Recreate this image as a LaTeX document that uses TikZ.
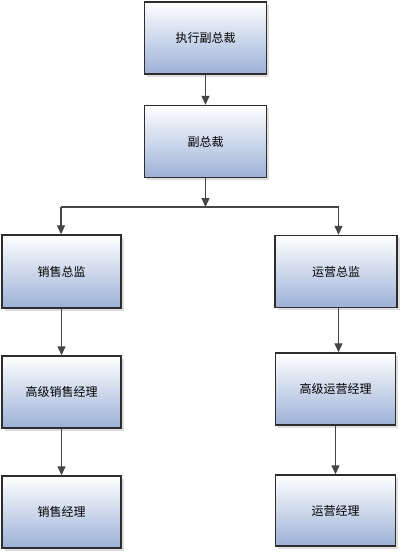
\documentclass[tikz,border=0pt]{standalone}
\usepackage{fontspec}
\newfontfamily\cjk{Noto Sans CJK SC}
\usetikzlibrary{arrows.meta,shadows}
\definecolor{boxline}{RGB}{45,45,45}
\definecolor{arrline}{RGB}{70,70,70}
\definecolor{boxbot}{RGB}{156,177,215}
\tikzset{
  orgbox/.style={draw=boxline, line width=1.4pt, top color=white, bottom color=boxbot,
    minimum width=#1, minimum height=72pt, inner sep=0pt,
    font=\cjk\fontsize{12}{14}\selectfont,
    drop shadow={shadow xshift=2.5pt, shadow yshift=-2.5pt, opacity=0.25, fill=gray}},
  orgbox/.default=121pt,
  arr/.style={draw=arrline, line width=1.3pt, -{Triangle[length=9pt,width=8pt]}},
  conn/.style={draw=arrline, line width=1.3pt}
}
\begin{document}
\begin{tikzpicture}[x=1pt,y=-1pt]
\useasboundingbox (0,0) rectangle (400,554);
\node[orgbox=122pt] (b1) at (205.5,38) {执行副总裁};
\node[orgbox=122pt] (b2) at (205.5,141.5) {副总裁};
\node[orgbox=119pt, minimum height=73pt] (l1) at (61.5,271.5) {销售总监};
\node[orgbox=122pt, minimum height=72pt] (r1) at (336,271.5) {运营总监};
\node[orgbox=119pt] (l2) at (61.5,392) {高级销售经理};
\node[orgbox=120pt] (r2) at (335.5,389) {高级运营经理};
\node[orgbox=119pt] (l3) at (61.5,512) {销售经理};
\node[orgbox=120pt, minimum height=71pt] (r3) at (335.5,510.5) {运营经理};
\coordinate (j) at (205.5,207);
\coordinate (jl) at (61,207);
\coordinate (jr) at (338.5,207);
\draw[arr] (b1) -- (b2);
\draw[arr] (b2) -- (j);
\draw[conn] (jl) -- (jr);
\draw[arr] (jl) -- (jl |- l1.north);
\draw[arr] (jr) -- (jr |- r1.north);
\draw[arr] (l1) -- (l2);
\draw[arr] (l2) -- (l3);
\draw[arr] (r1.south -| jr) -- (r2.north -| jr);
\draw[arr] (r2) -- (r3);
\end{tikzpicture}
\end{document}
